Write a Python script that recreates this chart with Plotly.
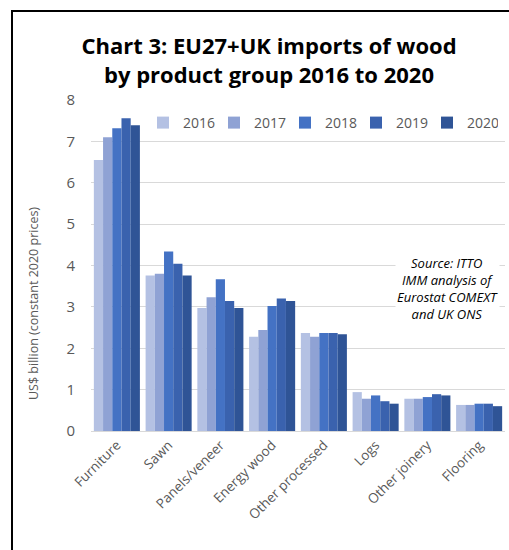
import plotly.graph_objects as go

categories = ["Furniture", "Sawn", "Panels/veneer", "Energy wood", "Other processed",
              "Logs", "Other joinery", "Flooring"]
years = ["2016", "2017", "2018", "2019", "2020"]
values = {
    "2016": [6.55, 3.76, 2.97, 2.28, 2.37, 0.94, 0.78, 0.63],
    "2017": [7.10, 3.80, 3.23, 2.44, 2.28, 0.78, 0.78, 0.63],
    "2018": [7.32, 4.34, 3.67, 3.02, 2.37, 0.86, 0.82, 0.66],
    "2019": [7.56, 4.04, 3.14, 3.20, 2.37, 0.72, 0.89, 0.66],
    "2020": [7.39, 3.76, 2.97, 3.14, 2.34, 0.66, 0.86, 0.60],
}
colors = {"2016": "#b4c1e3", "2017": "#8fa2d4", "2018": "#4472c4",
          "2019": "#3a62ae", "2020": "#2f5496"}

W, H = 509, 550
L, R, T, B = 91, 4, 100, 119
pw, ph = W - L - R, H - T - B

def px(x):
    return (x - L) / pw

def py(y):
    return (H - B - y) / ph

fig = go.Figure()
for yr in years:
    fig.add_trace(go.Bar(name=yr, x=categories, y=values[yr],
                         marker=dict(color=colors[yr], line=dict(width=0))))

fig.update_layout(
    width=W, height=H,
    margin=dict(l=L, r=R, t=T, b=B, autoexpand=False),
    paper_bgcolor="white", plot_bgcolor="white",
    barmode="group", bargap=0.11, bargroupgap=0,
    font=dict(family="Open Sans, sans-serif", color="#595959"),
    title=dict(text="<b>Chart 3: EU27+UK imports of wood<br>by product group 2016 to 2020</b>",
               x=269 / W, xref="container", xanchor="center", y=1 - 54 / H, yref="container",
               yanchor="middle",
               font=dict(size=22, color="black", family="Open Sans, sans-serif")),
    legend=dict(orientation="h", x=px(143), y=py(123), xanchor="left", yanchor="middle",
                font=dict(size=14, color="#595959"), bgcolor="rgba(0,0,0,0)",
                entrywidth=26, entrywidthmode="pixels", itemwidth=30),
    xaxis=dict(tickangle=-45, tickfont=dict(size=13.5, color="#595959"), automargin=False,
               showline=True, linecolor="#d9d9d9", linewidth=1, ticks=""),
    yaxis=dict(range=[0, 8], dtick=1, showgrid=True, gridcolor="#d9d9d9", gridwidth=1,
               automargin=False, ticklabelstandoff=15,
               zeroline=False, tickfont=dict(size=15, color="#595959"), ticks=""),
    showlegend=True,
)

fig.add_annotation(xref="paper", yref="paper", x=px(33), y=py(304),
                   text="US$ billion (constant 2020 prices)", textangle=-90,
                   showarrow=False, xanchor="center", yanchor="middle",
                   font=dict(size=12.5, color="#595959"))

fig.add_annotation(xref="paper", yref="paper", x=px(447), y=py(288),
                   text="<i>Source: ITTO<br>IMM analysis of<br>Eurostat COMEXT<br>and UK ONS</i>",
                   showarrow=False, align="center", bgcolor="white",
                   font=dict(size=13, color="black", family="Open Sans, sans-serif"),
                   xanchor="center", yanchor="middle")

fig.add_shape(type="rect", xref="paper", yref="paper",
              x0=px(12), x1=px(W + 20), y0=py(H + 20), y1=py(11),
              line=dict(color="black", width=2), fillcolor="rgba(0,0,0,0)", layer="above")

fig.write_html("out.html", config={"displayModeBar": False},
               post_script="document.body.style.margin='0';")
